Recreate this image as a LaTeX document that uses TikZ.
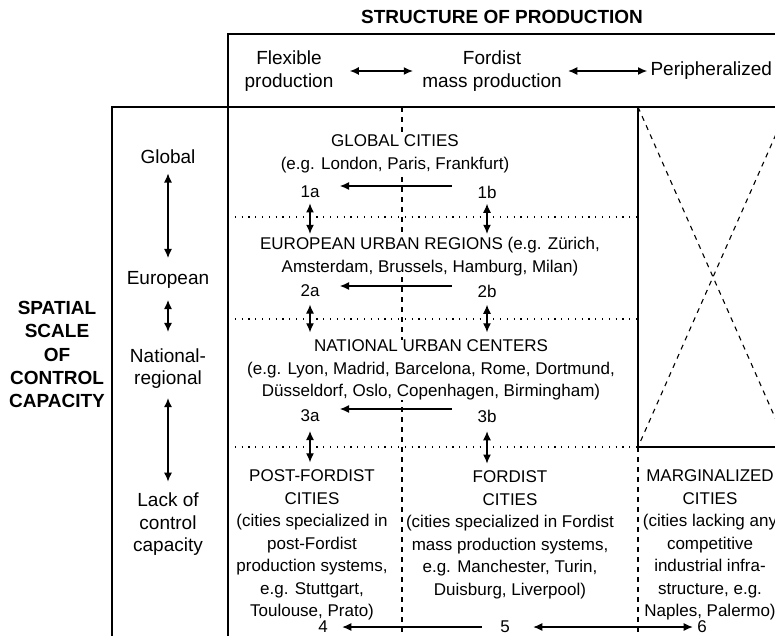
\documentclass[tikz,border=0pt]{standalone}
\usepackage{fontspec}
\setmainfont{Liberation Sans}
\usetikzlibrary{arrows.meta}

\tikzset{
  hd/.style={font=\fontsize{19}{22.5}\selectfont, align=center, inner sep=0pt},
  cell/.style={font=\fontsize{17}{22.5}\selectfont, align=center, inner sep=0pt, fill=white},
  bigb/.style={font=\fontsize{19}{23.2}\selectfont\bfseries, align=center, inner sep=0pt},
  arr/.style={-{Latex[length=9pt,width=8pt]}},
  dbl/.style={{Latex[length=9pt,width=8pt]}-{Latex[length=9pt,width=8pt]}},
  dots/.style={dash pattern=on 1.2pt off 5.6pt},
  dsh/.style={dash pattern=on 5pt off 5pt}
}

\begin{document}
\begin{tikzpicture}[x=1pt,y=-1pt,line width=1.1pt]
\useasboundingbox (0,0) rectangle (775,636);
% ramme og felter
\draw (228,636) -- (228,34) -- (775,34);
\draw (112,636) -- (112,107) -- (775,107);
\draw[dsh] (402,107) -- (402,636);
\draw (638,107) -- (638,447) -- (775,447);
\draw[dsh] (638,447) -- (638,636);
\draw[dots] (228,217) -- (638,217);
\draw[dots] (228,319) -- (638,319);
\draw[dots] (228,447) -- (638,447);
% kryds i tomt felt
\begin{scope}
\clip (638,107) rectangle (775,447);
\draw[dsh] (638,107) -- (788,447);
\draw[dsh] (788,107) -- (638,447);
\end{scope}

% overskrift
\node[bigb] (title) at (502,17) {STRUCTURE OF PRODUCTION};
\node[hd] (flex) at (289,71) {Flexible\\production};
\node[hd] (fordh) at (492,71) {Fordist\\mass production};
\node[hd, anchor=west] (perh) at (650,71) {Peripheralized};
\draw[dbl, shorten <=16pt, shorten >=9pt] (flex) -- (fordh);
\draw[dbl, shorten <=6pt, shorten >=3pt] (fordh) -- (perh);

% venstre kolonne
\node[bigb] (spatial) at (57,354.5) {SPATIAL\\SCALE\\OF\\CONTROL\\CAPACITY};
\node[hd] (glob) at (168,157) {Global};
\node[hd] (euro) at (168,280) {European};
\node[hd] (natreg) at (168,368.5) {National-\\regional};
\node[hd] (lack) at (168,524.5) {Lack of\\control\\capacity};
\draw[dbl, shorten <=9pt, shorten >=13pt] (glob) -- (euro);
\draw[dbl, shorten <=11pt, shorten >=16pt] (euro) -- (natreg);
\draw[dbl, shorten <=9pt, shorten >=11pt] (natreg) -- (lack);

% byer
\node[cell] (globc) at (395,154) {GLOBAL CITIES\\(e.g. London, Paris, Frankfurt)};
\node[cell] (n1a) at (310,192) {1a};
\node[cell] (n1b) at (487,192) {1b};
\node[cell] (euroc) at (430,256.5) {EUROPEAN URBAN REGIONS (e.g. Zürich,\\Amsterdam, Brussels, Hamburg, Milan)};
\node[cell] (n2a) at (310,291) {2a};
\node[cell] (n2b) at (487,291) {2b};
\node[cell] (natc) at (431,370) {NATIONAL URBAN CENTERS\\(e.g. Lyon, Madrid, Barcelona, Rome, Dortmund,\\Düsseldorf, Oslo, Copenhagen, Birmingham)};
\node[cell] (n3a) at (310,416) {3a};
\node[cell] (n3b) at (487,416) {3b};
\node[cell] (postf) at (312,545) {POST-FORDIST\\CITIES\\(cities specialized in\\post-Fordist\\production systems,\\e.g. Stuttgart,\\Toulouse, Prato)};
\node[cell] (fordc) at (510,535) {FORDIST\\CITIES\\(cities specialized in Fordist\\mass production systems,\\e.g. Manchester, Turin,\\Duisburg, Liverpool)};
\node[cell] (margc) at (710,545) {MARGINALIZED\\CITIES\\(cities lacking any\\competitive\\industrial infra-\\structure, e.g.\\Naples, Palermo)};
\node[cell] (n4) at (323,627) {4};
\node[cell] (n5) at (505,627) {5};
\node[cell] (n6) at (702,627) {6};

% pile
\draw[arr, shorten <=25pt, shorten >=20pt] ([yshift=6pt]n1b.west) -- ([yshift=6pt]n1a.east);
\draw[arr, shorten <=25pt, shorten >=20pt] ([yshift=5pt]n2b.west) -- ([yshift=5pt]n2a.east);
\draw[arr, shorten <=25pt, shorten >=20pt] ([yshift=7pt]n3b.west) -- ([yshift=7pt]n3a.east);
\draw[dbl, shorten <=5pt, shorten >=3pt] (n1a.south) -- (n1a.south |- euroc.north);
\draw[dbl, shorten <=5pt, shorten >=3pt] (n1b.south) -- (n1b.south |- euroc.north);
\draw[dbl, shorten <=7pt, shorten >=7pt] (n2a.south) -- (n2a.south |- natc.north);
\draw[dbl, shorten <=7pt, shorten >=7pt] (n2b.south) -- (n2b.south |- natc.north);
\draw[dbl, shorten <=8.5pt, shorten >=7pt] (n3a.south) -- (n3a.south |- postf.north);
\draw[dbl, shorten <=8.5pt, shorten >=7pt] (n3b.south) -- (n3b.south |- fordc.north);
\draw[arr, shorten <=18pt, shorten >=14pt] (n5) -- (n4);
\draw[dbl, shorten <=23pt, shorten >=4pt] (n5) -- (n6);
\end{tikzpicture}
\end{document}
